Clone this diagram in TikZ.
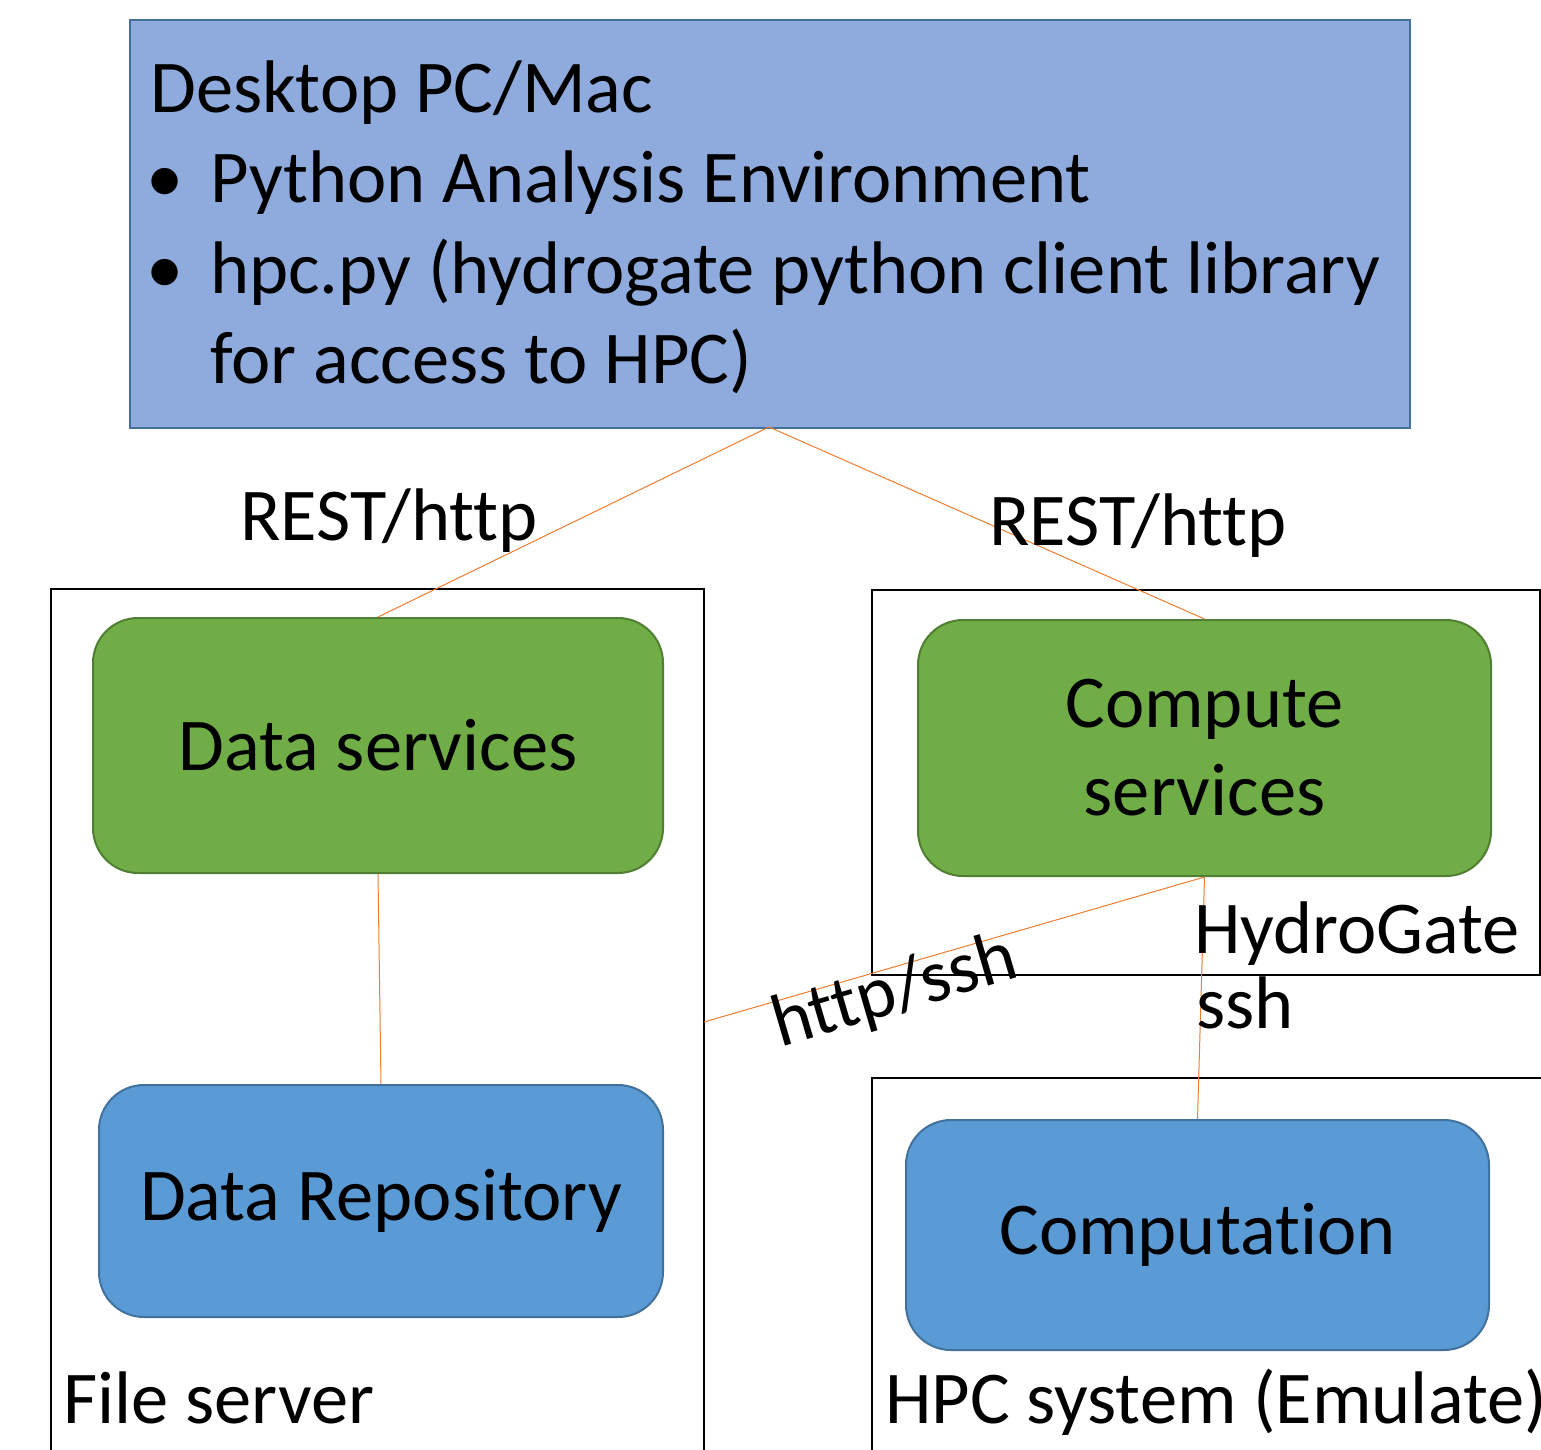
\documentclass[tikz,border=0pt]{standalone}
\usepackage{fontspec}
\setmainfont[Ligatures=NoCommon]{Carlito}
\begin{document}
\begin{tikzpicture}[x=1pt,y=-1pt,
  txt/.style={font=\fontsize{74.5}{88}\selectfont, inner sep=0pt},
  container/.style={draw=black, line width=2pt, fill=none},
  pcbox/.style={draw=pcborder, fill=pcfill, line width=2pt},
  greenbox/.style={draw=gborder, fill=gfill, line width=2pt, rounded corners=45pt, txt, align=center},
  bluebox/.style={draw=bborder, fill=bfill, line width=2pt, rounded corners=45pt, txt, align=center},
  link/.style={draw=linkc, line width=1pt}
]
\definecolor{pcfill}{HTML}{8FAADC}
\definecolor{pcborder}{HTML}{41719C}
\definecolor{gfill}{HTML}{70AD47}
\definecolor{gborder}{HTML}{507E32}
\definecolor{bfill}{HTML}{5B9BD5}
\definecolor{bborder}{HTML}{41719C}
\definecolor{linkc}{HTML}{ED7D31}
\useasboundingbox (0,0) rectangle (1541,1450);
\clip (0,0) rectangle (1541,1450);

% desktop client
\node[pcbox, minimum width=1280pt, minimum height=408pt, anchor=north west, inner sep=0pt] (desk) at (129,19) {};
\node[txt, anchor=base west] (deskt) at (150,113) {Desktop PC/Mac};
\node[txt, anchor=base west] (b1) at (146,203) {•};
\node[txt, anchor=base west] (l1) at (210,203) {Python Analysis Environment};
\node[txt, anchor=base west] (b2) at (146,293) {•};
\node[txt, anchor=base west] (l2) at (210,293) {hpc.py (hydrogate python client library};
\node[txt, anchor=base west] (l3) at (210,383) {for access to HPC)};
\coordinate (deskbot) at (769,427);

% server containers
\draw[container] (51,1460) -- (51,589) -- (704,589) -- (704,1460);
\coordinate (fsedge) at (704,1022);
\draw[container] (872,590) rectangle (1540,975);
\draw[container] (872,1460) -- (872,1078) -- (1550,1078);

% services
\node[greenbox, minimum width=570pt, minimum height=255pt] (data) at (378,745.5) {Data services};
\node[greenbox, minimum width=573pt, minimum height=256pt] (comp) at (1204.5,748) {Compute\\services};
\node[bluebox, minimum width=564pt, minimum height=232pt] (repo) at (381,1201) {Data Repository};
\node[bluebox, minimum width=583pt, minimum height=230pt] (calc) at (1197.5,1235) {Computation};

% connectors
\draw[link] (deskbot) -- (data.north);
\draw[link] (deskbot) -- (comp.north);
\draw[link] (data.south) -- (repo.north);
\draw[link] (comp.south) -- (fsedge);
\draw[link] (comp.south) -- (calc.north);

% labels
\node[txt, anchor=base] (rest1) at (389,540) {REST/http};
\node[txt, anchor=base] (rest2) at (1138,545) {REST/http};
\node[txt, rotate=16.3] (hs) at (895,993) {http/ssh};
\node[txt, anchor=base west] (hg) at (1194,953) {HydroGate};
\node[txt, anchor=base west] (ssh) at (1196,1028) {ssh};
\node[txt, anchor=base west] (fs) at (63,1423) {File server};
\node[txt, anchor=base west] (hpc) at (885,1423) {HPC system (Emulate)};
\end{tikzpicture}
\end{document}
